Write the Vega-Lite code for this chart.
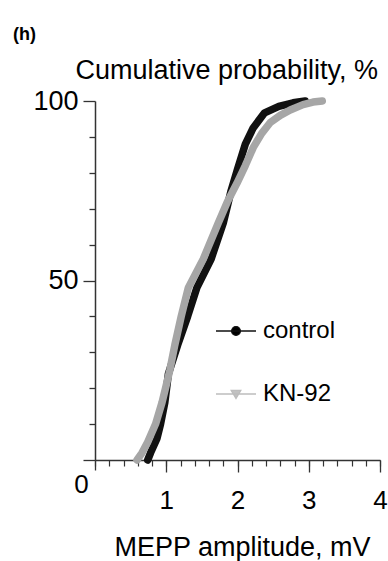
{
  "$schema": "https://vega.github.io/schema/vega-lite/v6.json",
  "width": 285,
  "height": 359,
  "autosize": {"type": "none"},
  "padding": {"left": 95, "top": 101, "right": 8, "bottom": 101},
  "background": "white",
  "title": {"text": "(h)", "anchor": "start", "frame": "group", "dx": -82, "offset": 12, "fontSize": 18, "fontWeight": "bold", "font": "Liberation Sans", "color": "#000000"},
  "data": {"values": [
    {"series": "control", "pct": 0, "mV": 0.74},
    {"series": "control", "pct": 2, "mV": 0.78},
    {"series": "control", "pct": 6, "mV": 0.87},
    {"series": "control", "pct": 10, "mV": 0.92},
    {"series": "control", "pct": 16, "mV": 0.98},
    {"series": "control", "pct": 24, "mV": 1.03},
    {"series": "control", "pct": 32, "mV": 1.16},
    {"series": "control", "pct": 40, "mV": 1.3},
    {"series": "control", "pct": 48, "mV": 1.43},
    {"series": "control", "pct": 56, "mV": 1.63},
    {"series": "control", "pct": 66, "mV": 1.8},
    {"series": "control", "pct": 75, "mV": 1.91},
    {"series": "control", "pct": 81, "mV": 2.0},
    {"series": "control", "pct": 88, "mV": 2.11},
    {"series": "control", "pct": 92.5, "mV": 2.22},
    {"series": "control", "pct": 96.7, "mV": 2.38},
    {"series": "control", "pct": 98.5, "mV": 2.58},
    {"series": "control", "pct": 99.5, "mV": 2.78},
    {"series": "control", "pct": 100, "mV": 2.95},
    {"series": "KN-92", "pct": 0, "mV": 0.59},
    {"series": "KN-92", "pct": 2, "mV": 0.66},
    {"series": "KN-92", "pct": 5, "mV": 0.74},
    {"series": "KN-92", "pct": 10, "mV": 0.85},
    {"series": "KN-92", "pct": 16, "mV": 0.94},
    {"series": "KN-92", "pct": 20, "mV": 0.99},
    {"series": "KN-92", "pct": 25, "mV": 1.05},
    {"series": "KN-92", "pct": 32, "mV": 1.12},
    {"series": "KN-92", "pct": 40, "mV": 1.21},
    {"series": "KN-92", "pct": 48, "mV": 1.31},
    {"series": "KN-92", "pct": 56, "mV": 1.52},
    {"series": "KN-92", "pct": 66, "mV": 1.73},
    {"series": "KN-92", "pct": 72, "mV": 1.86},
    {"series": "KN-92", "pct": 77, "mV": 1.99},
    {"series": "KN-92", "pct": 82, "mV": 2.11},
    {"series": "KN-92", "pct": 87, "mV": 2.22},
    {"series": "KN-92", "pct": 91, "mV": 2.34},
    {"series": "KN-92", "pct": 94, "mV": 2.46},
    {"series": "KN-92", "pct": 96, "mV": 2.6},
    {"series": "KN-92", "pct": 97.5, "mV": 2.74},
    {"series": "KN-92", "pct": 99, "mV": 2.92},
    {"series": "KN-92", "pct": 99.7, "mV": 3.06},
    {"series": "KN-92", "pct": 100, "mV": 3.19}
  ]},
  "layer": [
    {
      "transform": [{"filter": "datum.series === 'control'"}],
      "mark": {"type": "line", "strokeWidth": 7.5, "color": "#111111", "strokeCap": "round", "strokeJoin": "round"},
      "encoding": {
        "x": {"field": "mV", "type": "quantitative", "scale": {"domain": [0, 4], "nice": false, "zero": false},
          "axis": {"orient": "bottom", "values": [0, 1, 2, 3, 4], "grid": false, "title": "MEPP amplitude, mV",
            "titleFont": "Liberation Sans", "titleFontSize": 27, "titleFontWeight": "normal", "titleColor": "#000000",
            "titleX": 147, "titleY": 87, "titleBaseline": "middle",
            "tickSize": {"condition": {"test": "datum.value === 0", "value": 10}, "value": 12}, "tickColor": "#333333", "tickWidth": 1.3,
            "domainColor": "#333333", "domainWidth": 1.5,
            "labelFont": "Liberation Sans", "labelFontSize": 26, "labelColor": "#000000",
            "labelPadding": {"condition": {"test": "datum.value === 0", "value": 1}, "value": 15},
            "labelOffset": {"condition": {"test": "datum.value === 0", "value": -14}, "value": 0},
            "labelFlush": false, "labelOverlap": false, "labelBound": false}},
        "y": {"field": "pct", "type": "quantitative", "scale": {"domain": [0, 100], "nice": false},
          "axis": {"orient": "left", "values": [0, 10, 20, 30, 40, 50, 60, 70, 80, 90, 100], "grid": false,
            "labelExpr": "datum.value == 50 || datum.value == 100 ? datum.label : ''",
            "title": "Cumulative probability, %", "titleAngle": 0, "titleAlign": "left", "titleBaseline": "middle",
            "titleX": -20, "titleY": -31, "titleFont": "Liberation Sans", "titleFontSize": 27, "titleFontWeight": "normal", "titleColor": "#000000",
            "tickSize": {"condition": {"test": "datum.value % 50 === 0", "value": 12}, "value": 6}, "tickColor": "#333333", "tickWidth": 1.3, "domainColor": "#333333", "domainWidth": 1.5,
            "labelFont": "Liberation Sans", "labelFontSize": 27, "labelColor": "#000000", "labelPadding": 5, "labelOverlap": false}},
        "order": {"field": "pct", "type": "quantitative"}
      }
    },
    {
      "transform": [{"filter": "datum.series === 'KN-92'"}],
      "mark": {"type": "line", "strokeWidth": 7.5, "color": "#a6a6a6", "strokeCap": "round", "strokeJoin": "round"},
      "encoding": {
        "x": {"field": "mV", "type": "quantitative", "axis": null},
        "y": {"field": "pct", "type": "quantitative", "axis": null},
        "order": {"field": "pct", "type": "quantitative"}
      }
    },
    {
      "mark": {"type": "point", "filled": true, "opacity": 0, "size": 1600},
      "encoding": {
        "x": {"field": "mV", "type": "quantitative",
          "axis": {"orient": "bottom", "values": [0, 0.2, 0.4, 0.6, 0.8, 1, 1.2, 1.4, 1.6, 1.8, 2, 2.2, 2.4, 2.6, 2.8, 3, 3.2, 3.4, 3.6, 3.8, 4],
            "labels": false, "domain": false, "grid": false, "title": null, "tickSize": 6, "tickColor": "#333333", "tickWidth": 1.2}},
        "y": {"field": "pct", "type": "quantitative", "axis": null},
        "shape": {"field": "series", "type": "nominal",
          "scale": {"domain": ["control", "KN-92"], "range": ["M-1,0L1,0M-0.22,0A0.22,0.22,0,1,1,0.22,0A0.22,0.22,0,1,1,-0.22,0Z", "M-1,0L1,0M-0.24,-0.18L0.24,-0.18L0,0.22Z"]},
          "legend": {"title": null, "orient": "none", "legendX": 120, "legendY": 209, "padding": 0,
            "symbolSize": 1600, "symbolStrokeWidth": 1.3, "symbolOpacity": 1,
            "labelFont": "Liberation Sans", "labelFontSize": 24, "labelColor": "#000000", "labelOffset": 6, "rowPadding": 30}},
        "fill": {"field": "series", "type": "nominal", "scale": {"domain": ["control", "KN-92"], "range": ["#000000", "#c2c2c2"]}},
        "stroke": {"field": "series", "type": "nominal", "scale": {"domain": ["control", "KN-92"], "range": ["#111111", "#bdbdbd"]}}
      }
    }
  ],
  "resolve": {"axis": {"x": "independent", "y": "independent"}},
  "config": {"view": {"stroke": null}}
}
